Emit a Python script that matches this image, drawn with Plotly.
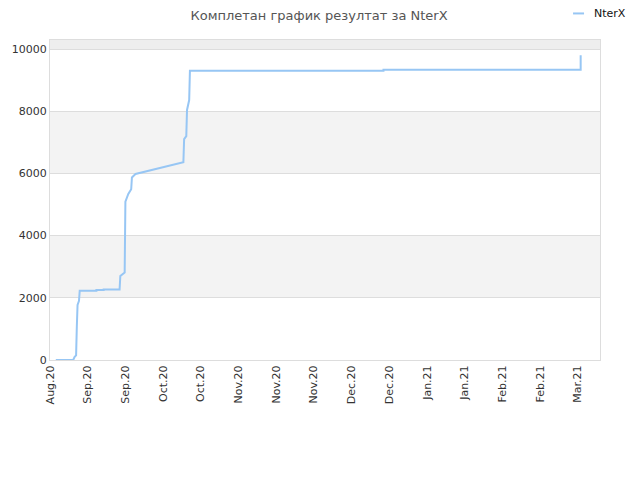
import plotly.graph_objects as go

# cumulative results for NterX
dates = [
    "2020-09-02 00:00", "2020-09-08 00:00", "2020-09-08 12:00", "2020-09-09 00:00",
    "2020-09-09 06:00", "2020-09-09 12:00", "2020-09-10 00:00", "2020-09-10 06:00",
    "2020-09-16 00:00", "2020-09-16 00:01", "2020-09-18 12:00", "2020-09-18 12:01",
    "2020-09-24 00:00", "2020-09-24 06:00", "2020-09-25 18:00", "2020-09-26 00:00",
    "2020-09-27 00:00", "2020-09-28 00:00", "2020-09-28 06:00", "2020-09-29 12:00",
    "2020-10-16 00:00", "2020-10-16 06:00", "2020-10-17 00:00", "2020-10-17 06:00",
    "2020-10-18 00:00", "2020-10-18 06:00", "2020-12-24 00:00", "2020-12-24 00:01",
    "2021-03-02 00:00", "2021-03-02 00:01",
]
scores = [
    0, 0, 100, 150,
    1070, 1770, 1900, 2230,
    2230, 2250, 2250, 2270,
    2270, 2700, 2810, 5090,
    5340, 5490, 5870, 5980,
    6360, 7100, 7200, 8040,
    8360, 9300, 9300, 9330,
    9330, 9800,
]

tick_dates = [
    "2020-08-31", "2020-09-13", "2020-09-26", "2020-10-09", "2020-10-22",
    "2020-11-04", "2020-11-17", "2020-11-30", "2020-12-13", "2020-12-26",
    "2021-01-08", "2021-01-21", "2021-02-03", "2021-02-16", "2021-03-01",
]
tick_labels = [
    "Aug.20", "Sep.20", "Sep.20", "Oct.20", "Oct.20", "Nov.20", "Nov.20", "Nov.20",
    "Dec.20", "Dec.20", "Jan.21", "Jan.21", "Feb.21", "Feb.21", "Mar.21",
]
y_ticks = [0, 2000, 4000, 6000, 8000, 10000]
y_top = 10290
line_color = "#97c6f4"

fig = go.Figure()
fig.add_trace(go.Scatter(
    x=dates, y=scores, mode="lines", name="NterX",
    line=dict(color=line_color, width=2),
))

# alternating background bands
bands = [(2000, 4000, "#f3f3f3"), (6000, 8000, "#f3f3f3"), (10000, y_top, "#eeeeee")]
for y0, y1, col in bands:
    fig.add_shape(type="rect", xref="paper", yref="y", x0=0, x1=1, y0=y0, y1=y1,
                  fillcolor=col, line_width=0, layer="below")

# small legend in the top right corner
fig.add_shape(type="line", xref="paper", yref="paper", x0=0.951, x1=0.971,
              y0=1.083, y1=1.083, line=dict(color=line_color, width=2))
fig.add_annotation(text="NterX", xref="paper", yref="paper", x=0.985, y=1.083,
                   xanchor="left", yanchor="middle", showarrow=False,
                   font=dict(size=11, color="#111"))

# the page has an 8px body margin, so margins are trimmed to match
fig.update_layout(
    width=640, height=480,
    margin=dict(l=42, r=48, t=32, b=128, autoexpand=False),
    paper_bgcolor="white", plot_bgcolor="white",
    font=dict(family="DejaVu Sans", size=11, color="#333"),
    title=dict(text="Комплетан график резултат за NterX", x=0.486, xanchor="center",
               y=0.985, yanchor="middle", font=dict(size=13, color="#555")),
    showlegend=False,
)
fig.update_xaxes(
    range=["2020-08-31", "2021-03-08 16:00"], tickvals=tick_dates, ticktext=tick_labels,
    tickangle=-90, showgrid=False, zeroline=False, showline=True, linecolor="#ddd",
    mirror=True, ticks="", tickfont=dict(size=11, color="#333"), automargin=False,
)
fig.update_yaxes(
    range=[0, y_top], tickvals=y_ticks, ticktext=[str(v) for v in y_ticks],
    showgrid=True, gridcolor="#ddd",
    zeroline=False, showline=True, linecolor="#ddd", mirror=True, ticks="",
    tickfont=dict(size=11, color="#333"), automargin=False,
)

fig.write_html("out.html")
